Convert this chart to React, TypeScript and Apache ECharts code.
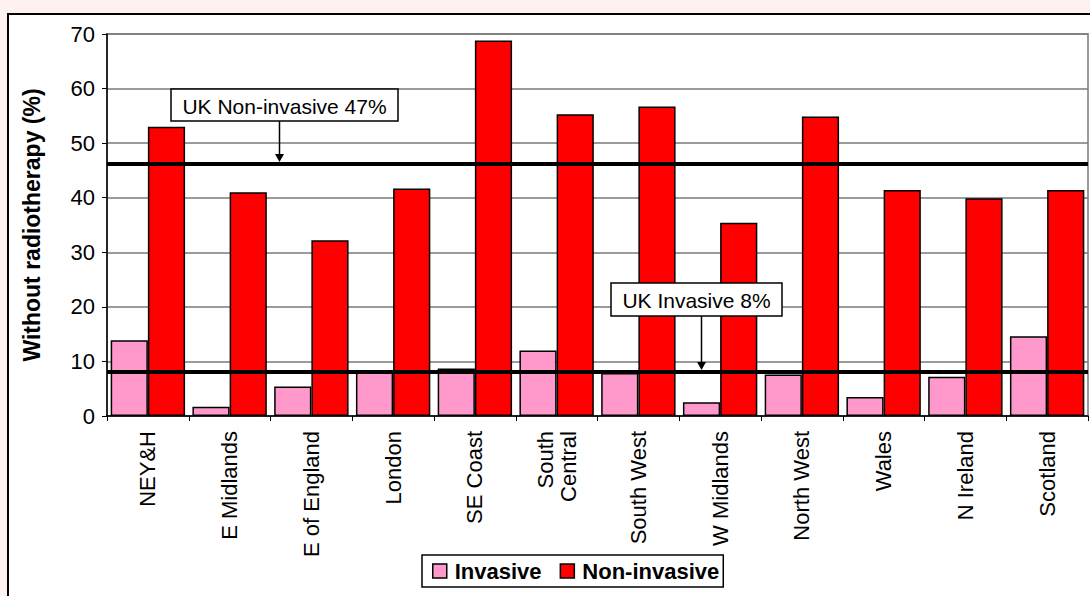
import React, { useEffect, useRef } from "react";
import * as echarts from "echarts";

const categories = [
  "NEY&H",
  "E Midlands",
  "E of England",
  "London",
  "SE Coast",
  "South\nCentral",
  "South West",
  "W Midlands",
  "North West",
  "Wales",
  "N Ireland",
  "Scotland",
];
const invasive = [13.9, 1.7, 5.4, 8.4, 8.7, 12.0, 7.9, 2.5, 7.6, 3.5, 7.2, 14.6];
const nonInvasive = [53.0, 41.0, 32.2, 41.7, 68.8, 55.3, 56.7, 35.4, 54.9, 41.4, 39.9, 41.4];
const ukNonInvasive = 46.3;
const ukInvasive = 8.2;
const ukNonInvasiveLabel = "UK Non-invasive 47%";
const ukInvasiveLabel = "UK Invasive 8%";

const FONT = "'Liberation Sans', Arial, sans-serif";

export default function App() {
  const ref = useRef<HTMLDivElement>(null);
  useEffect(() => {
    if (!ref.current) return;
    const chart = echarts.init(ref.current, null, { renderer: "svg" });
    const annotation = (x: number, y: number, w: number, h: number, text: string, ax: number, tipY: number) => [
      {
        type: "rect",
        shape: { x, y, width: w, height: h },
        style: { fill: "#fff", stroke: "#000", lineWidth: 1.5 },
        z: 10,
      },
      {
        type: "text",
        x: x + w / 2,
        y: y + h / 2 + 1,
        style: { text, fill: "#000", font: `21px ${FONT}`, align: "center", verticalAlign: "middle" },
        z: 11,
      },
      {
        type: "line",
        shape: { x1: ax, y1: y + h, x2: ax, y2: tipY - 7 },
        style: { stroke: "#000", lineWidth: 1.5 },
        z: 10,
      },
      {
        type: "polygon",
        shape: { points: [[ax - 4.5, tipY - 8], [ax + 4.5, tipY - 8], [ax, tipY]] },
        style: { fill: "#000" },
        z: 10,
      },
    ];
    chart.setOption({
      animation: false,
      textStyle: { fontFamily: FONT },
      grid: {
        left: 107,
        top: 34,
        right: 2,
        bottom: 180,
        show: true,
        borderColor: "#9a9a9a",
        borderWidth: 2,
        backgroundColor: "transparent",
      },
      legend: {
        left: 422,
        top: 555,
        orient: "horizontal",
        backgroundColor: "#fff",
        borderColor: "#000",
        borderWidth: 1.5,
        borderRadius: 0,
        padding: [5, 4, 5, 10],
        itemWidth: 14,
        itemHeight: 14,
        itemGap: 18,
        icon: "rect",
        itemStyle: { borderColor: "#000", borderWidth: 1.5 },
        textStyle: { fontSize: 22, fontWeight: "bold", color: "#000", fontFamily: FONT, padding: [0, 0, 0, 3] },
        data: ["Invasive", "Non-invasive"],
      },
      xAxis: {
        type: "category",
        data: categories,
        axisLine: { lineStyle: { color: "#000", width: 1.5 } },
        axisTick: { show: true, length: 5, lineStyle: { color: "#000", width: 1 } },
        axisLabel: {
          rotate: 90,
          interval: 0,
          margin: 15,
          fontSize: 22,
          color: "#000",
          fontFamily: FONT,
          lineHeight: 23,
        },
      },
      yAxis: {
        type: "value",
        min: 0,
        max: 70,
        interval: 10,
        name: "Without radiotherapy (%)",
        nameLocation: "middle",
        nameGap: 64,
        nameRotate: 90,
        nameTextStyle: { fontSize: 23, fontWeight: "bold", color: "#000", fontFamily: FONT },
        axisLine: { show: true, lineStyle: { color: "#000", width: 1.5 } },
        axisTick: { show: true, length: 5, lineStyle: { color: "#000", width: 1 } },
        axisLabel: { fontSize: 22, color: "#000", margin: 12, fontFamily: FONT },
        splitLine: { lineStyle: { color: "#7a7a7a", width: 1.5 } },
      },
      series: [
        {
          name: "Invasive",
          type: "bar",
          data: invasive,
          barGap: "0%",
          barCategoryGap: "9%",
          itemStyle: { color: "#FF99CC", borderColor: "#000", borderWidth: 1.5 },
          markLine: {
            silent: true,
            symbol: "none",
            label: { show: false },
            lineStyle: { color: "#000", width: 4, type: "solid" },
            data: [{ yAxis: ukInvasive }, { yAxis: ukNonInvasive }],
            z: 5,
          },
        },
        {
          name: "Non-invasive",
          type: "bar",
          data: nonInvasive,
          barGap: "0%",
          barCategoryGap: "9%",
          itemStyle: { color: "#FF0000", borderColor: "#000", borderWidth: 1.5 },
        },
      ],
      graphic: [
        ...annotation(171, 89, 227, 32, ukNonInvasiveLabel, 279.5, 162),
        ...annotation(611, 283, 171, 33, ukInvasiveLabel, 701.5, 370),
      ],
    });
    return () => chart.dispose();
  }, []);
  return (
    <div
      style={{
        position: "absolute",
        left: 0,
        top: 0,
        width: 1090,
        height: 596,
        overflow: "hidden",
        background: "#fdf2f0",
      }}
    >
      <div
        style={{
          position: "absolute",
          left: 7,
          top: 13,
          width: 1100,
          height: 600,
          background: "#fff",
          border: "2px solid #000",
        }}
      />
      <div ref={ref} style={{ position: "absolute", left: 0, top: 0, width: 1090, height: 596 }} />
    </div>
  );
}
